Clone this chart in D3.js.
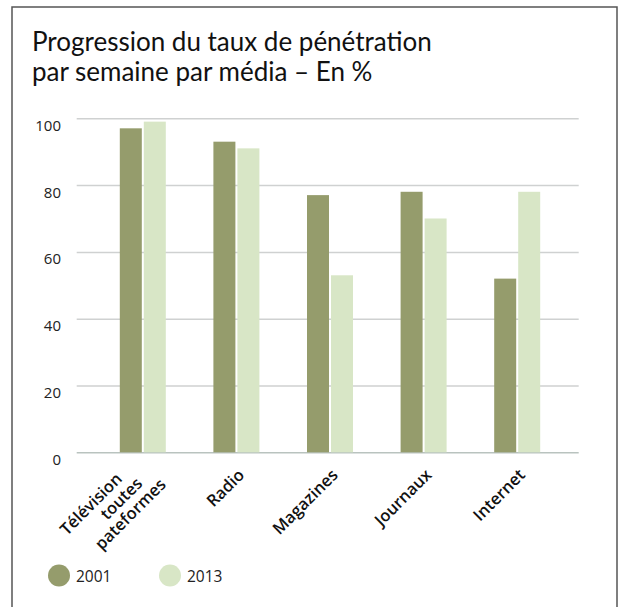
<!DOCTYPE html>
<html>
<head>
<meta charset="utf-8">
<script src="https://cdn.jsdelivr.net/npm/d3@7"></script>
<style>
  body { margin: 0; background: #fff; }
  svg { display: block; }
</style>
</head>
<body>
<svg id="chart" width="621" height="607"></svg>
<script>
// data
const categories = ["Télévision toutes pateformes", "Radio", "Magazines", "Journaux", "Internet"];
const categoryLines = [["Télévision", "toutes", "pateformes"], ["Radio"], ["Magazines"], ["Journaux"], ["Internet"]];
const series = ["2001", "2013"];
const values2001 = [97, 93, 77, 78, 52];
const values2013 = [99, 91, 53, 70, 78];
const yTicks = [0, 20, 40, 60, 80, 100];
const titleLines = ["Progression du taux de pénétration", "par semaine par média – En %"];

const colors = { "2001": "#959c6c", "2013": "#d8e6c6" };

const svg = d3.select("#chart");

// frame
svg.append("rect")
    .attr("x", 12).attr("y", 7)
    .attr("width", 605).attr("height", 620)
    .attr("fill", "#fff")
    .attr("stroke", "#555")
    .attr("stroke-width", 1.5);

// title
svg.selectAll(".title")
    .data(titleLines)
    .join("text")
    .attr("class", "title")
    .attr("x", 32)
    .attr("y", (d, i) => 51 + i * 29.5)
    .attr("font-family", "Lato, sans-serif")
    .attr("font-size", 26)
    .attr("fill", "#111")
    .text(d => d);

const y = d3.scaleLinear().domain([0, 100]).range([452.3, 118.3]);
const x0 = d3.scaleBand().domain(categories).range([96, 564]);
const x1 = d3.scaleBand().domain(series).range([0, 46]).paddingInner(2 - 46 / 24);

// grid + y labels
const gridLeft = 76.7, gridRight = 578.7;
const yAxis = svg.append("g")
    .attr("transform", `translate(${gridLeft},0)`)
    .call(d3.axisLeft(y).tickValues(yTicks).tickSize(-(gridRight - gridLeft)).tickFormat(d3.format("d")));
yAxis.select(".domain").remove();
yAxis.selectAll(".tick line")
    .attr("stroke", d => d === 0 ? "#b9c3bf" : "#cfd1d1")
    .attr("stroke-width", 1.5);
yAxis.selectAll(".tick text")
    .attr("x", 61 - gridLeft)
    .attr("y", 12)
    .attr("dy", 0)
    .attr("text-anchor", "end")
    .attr("font-family", "'Open Sans', sans-serif")
    .attr("font-size", 15)
    .attr("fill", "#222");

// bars
const rows = categories.map((c, i) => ({ cat: c, "2001": values2001[i], "2013": values2013[i] }));
const groups = svg.append("g").selectAll("g")
    .data(rows)
    .join("g")
    .attr("transform", d => `translate(${x0(d.cat) + x0.bandwidth() / 2 - 23},0)`);

groups.selectAll("rect")
    .data(d => series.map(s => ({ key: s, value: d[s] })))
    .join("rect")
    .attr("x", d => x1(d.key))
    .attr("y", d => y(d.value))
    .attr("width", x1.bandwidth())
    .attr("height", d => y(0) - y(d.value))
    .attr("fill", d => colors[d.key]);

// rotated category labels
const lineShift = [-23, -12, 4];
const labels = svg.append("g").selectAll("text")
    .data(categories)
    .join("text")
    .attr("transform", d => `translate(${x0(d) + x0.bandwidth() / 2 + 9},476) rotate(-45)`)
    .attr("text-anchor", "end")
    .attr("font-family", "'Open Sans', sans-serif")
    .attr("font-weight", 600)
    .attr("font-size", 16.5)
    .attr("fill", "#111");

labels.selectAll("tspan")
    .data((d, i) => categoryLines[i].map((t, j, arr) => ({ t, j, n: arr.length })))
    .join("tspan")
    .attr("x", d => d.n > 1 ? lineShift[d.j] : 0)
    .attr("y", d => d.n > 1 ? (d.j - 1) * 17.5 : 0)
    .text(d => d.t);

// legend
const legend = svg.append("g").selectAll("g")
    .data(series)
    .join("g")
    .attr("transform", (d, i) => `translate(${59 + i * 111},575.5)`);
legend.append("circle").attr("r", 11).attr("fill", d => colors[d]);
legend.append("text")
    .attr("x", 17)
    .attr("y", 6)
    .attr("font-family", "'Open Sans', sans-serif")
    .attr("font-size", 15.5)
    .attr("fill", "#222")
    .text(d => d);
</script>
</body>
</html>
